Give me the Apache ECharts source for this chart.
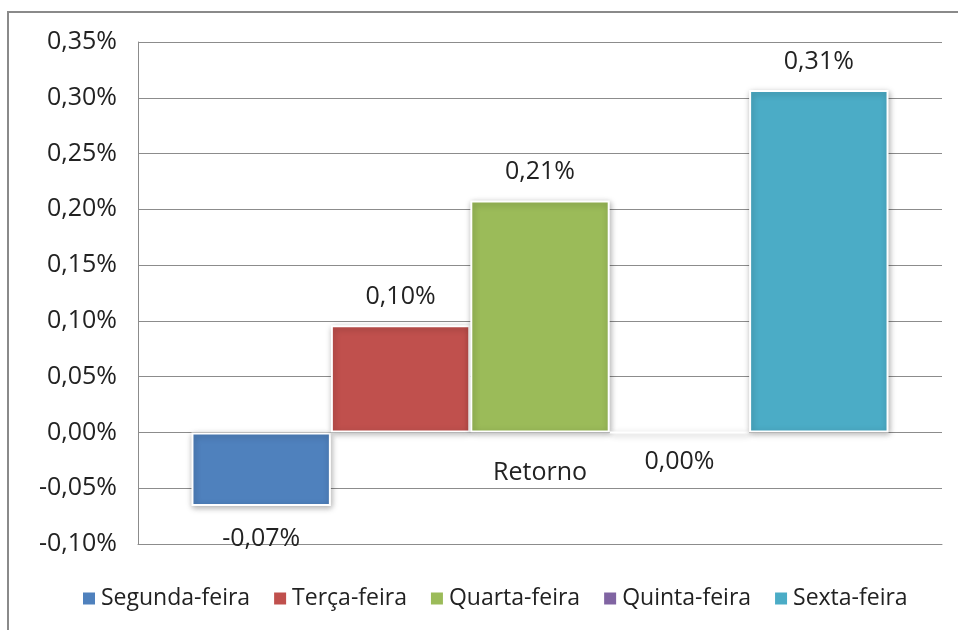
<!DOCTYPE html>
<html>
<head>
<meta charset="utf-8">
<script src="https://cdn.jsdelivr.net/npm/echarts@6/dist/echarts.min.js"></script>
<style>
  html, body { margin: 0; padding: 0; background: #fff; }
  #chart { width: 958px; height: 630px; }
</style>
</head>
<body>
<div id="chart"></div>
<script>
    // valores em %
    var categorias = ['Retorno'];
    var dias = ['Segunda-feira', 'Terça-feira', 'Quarta-feira', 'Quinta-feira', 'Sexta-feira'];
    var retornos = [-0.066, 0.096, 0.208, 0.0, 0.307];
    var cores = ['#4F81BD', '#C0504D', '#9BBB59', '#8064A2', '#4BACC6'];

    var fonte = '"Open Sans", "Noto Sans", sans-serif';

    function pct(v) {
        return v.toFixed(2).replace('.', ',') + '%';
    }

    var myChart = echarts.init(document.getElementById('chart'));

    var series = dias.map(function (nome, i) {
        var v = retornos[i];
        return {
            name: nome,
            type: 'bar',
            barGap: '0%',
            barCategoryGap: '13.3%',
            itemStyle: {
                color: cores[i],
                borderColor: '#fff',
                borderWidth: 2,
                shadowBlur: 6,
                shadowColor: 'rgba(0,0,0,0.3)',
                shadowOffsetX: 1,
                shadowOffsetY: 2
            },
            label: {
                show: true,
                position: v <= 0 ? 'bottom' : 'top',
                distance: v < 0 ? 20 : 16,
                fontFamily: fonte,
                fontSize: 25,
                color: '#222',
                formatter: function (p) { return pct(p.value); }
            },
            data: [v]
        };
    });

    var option = {
        animation: false,
        color: cores,
        graphic: [{
            type: 'rect',
            shape: { x: 8, y: 12, width: 980, height: 660 },
            style: { fill: 'none', stroke: '#8a8a8a', lineWidth: 2 },
            silent: true
        }],
        grid: {
            left: 138,
            right: 16,
            top: 42,
            bottom: 86
        },
        legend: {
            bottom: 15,
            left: 76,
            icon: 'rect',
            itemWidth: 14,
            itemHeight: 14,
            itemGap: 22,
            textStyle: { fontFamily: fonte, fontSize: 23, color: '#222' },
            data: dias
        },
        xAxis: {
            type: 'category',
            data: categorias,
            // rótulo fica logo abaixo da linha do zero
            axisLine: { onZero: false, lineStyle: { color: '#8c8c8c', width: 1 } },
            axisTick: { show: false },
            axisLabel: {
                margin: -84,
                fontFamily: fonte,
                fontSize: 25,
                color: '#222'
            }
        },
        yAxis: {
            type: 'value',
            min: -0.10,
            max: 0.35,
            interval: 0.05,
            axisLine: { show: true, lineStyle: { color: '#8c8c8c', width: 1 } },
            axisTick: { show: false },
            splitLine: { lineStyle: { color: '#8c8c8c', width: 1 } },
            axisLabel: {
                margin: 21,
                fontFamily: fonte,
                fontSize: 25,
                color: '#222',
                formatter: function (v) { return pct(v); }
            }
        },
        series: series
    };

    myChart.setOption(option, true);
    window.addEventListener('resize', () => {
        myChart.resize();
    });
</script>
</body>
</html>
